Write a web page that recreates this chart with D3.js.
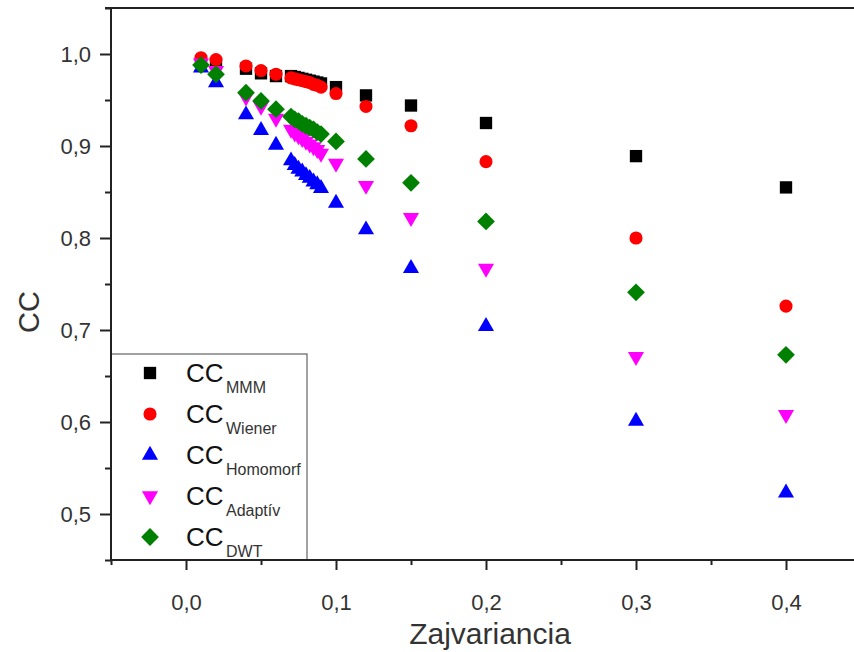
<!DOCTYPE html>
<html>
<head>
<meta charset="utf-8">
<script src="https://cdn.jsdelivr.net/npm/d3@7"></script>
<style>
  html, body { margin: 0; padding: 0; background: #fff; }
  svg { display: block; }
  text { font-family: "Liberation Sans", Arial, sans-serif; fill: #222; }
</style>
</head>
<body>
<svg id="chart" width="854" height="652"></svg>
<script>
// ---- data ----
const xValues = [0.01, 0.02, 0.04, 0.05, 0.06, 0.07, 0.0725, 0.075, 0.0775, 0.08, 0.0825, 0.085, 0.0875, 0.09, 0.1, 0.12, 0.15, 0.2, 0.3, 0.4];
const ccMMM      = [0.992, 0.990, 0.984, 0.979, 0.976, 0.976, 0.975, 0.974, 0.973, 0.972, 0.971, 0.970, 0.969, 0.968, 0.964, 0.955, 0.944, 0.925, 0.889, 0.855];
const ccWiener   = [0.996, 0.994, 0.987, 0.982, 0.978, 0.974, 0.973, 0.972, 0.971, 0.970, 0.969, 0.967, 0.966, 0.964, 0.957, 0.943, 0.922, 0.883, 0.800, 0.726];
const ccHomomorf = [0.985, 0.969, 0.934, 0.917, 0.901, 0.884, 0.879, 0.875, 0.872, 0.868, 0.865, 0.861, 0.858, 0.854, 0.838, 0.809, 0.767, 0.704, 0.601, 0.523];
const ccAdaptiv  = [0.990, 0.982, 0.953, 0.943, 0.930, 0.918, 0.914, 0.911, 0.908, 0.905, 0.902, 0.899, 0.896, 0.892, 0.881, 0.857, 0.822, 0.767, 0.671, 0.608];
const ccDWT      = [0.988, 0.978, 0.958, 0.949, 0.940, 0.932, 0.929, 0.927, 0.924, 0.922, 0.920, 0.918, 0.915, 0.913, 0.905, 0.886, 0.860, 0.818, 0.741, 0.673];
const seriesNames = ["MMM", "Wiener", "Homomorf", "Adaptív", "DWT"];
const seriesColors = ["#000000", "#ff0000", "#0000ff", "#ff00ff", "#008000"];
const xTicks = [0.0, 0.1, 0.2, 0.3, 0.4];
const xMinorTicks = [-0.05, 0.05, 0.15, 0.25, 0.35, 0.45];
const yTicks = [0.5, 0.6, 0.7, 0.8, 0.9, 1.0];
const yMinorTicks = [0.45, 0.55, 0.65, 0.75, 0.85, 0.95, 1.05];

const seriesValues = [ccMMM, ccWiener, ccHomomorf, ccAdaptiv, ccDWT];

// ---- layout ----
const svg = d3.select("#chart");
const x = d3.scaleLinear().domain([-0.05, 0.45]).range([111, 861]);
const y = d3.scaleLinear().domain([0.45, 1.05]).range([560, 8]);
const fmt = v => d3.format(".1f")(v).replace(".", ",");

// marker shapes
const shapes = [
  {type: d3.symbolSquare, size: 152, rot: 0},
  {type: d3.symbolCircle, size: 135, rot: 0},
  {type: d3.symbolTriangle, size: 112, rot: 0},
  {type: d3.symbolTriangle, size: 112, rot: 180},
  {type: d3.symbolSquare, size: 158, rot: 45}
];

// top frame line
svg.append("line")
  .attr("x1", x(-0.05) - 6).attr("x2", x(0.45))
  .attr("y1", y(1.05)).attr("y2", y(1.05))
  .attr("stroke", "#222").attr("stroke-width", 2);

// markers
seriesValues.forEach((vals, si) => {
  const sh = shapes[si];
  const gen = d3.symbol().type(sh.type).size(sh.size);
  svg.append("g").selectAll("path")
    .data(xValues.map((xv, i) => [xv, vals[i]]))
    .join("path")
    .attr("d", gen)
    .attr("transform", d => `translate(${x(d[0])},${y(d[1])}) rotate(${sh.rot})`)
    .attr("fill", seriesColors[si]);
});

// legend box
const lg = svg.append("g");
lg.append("rect")
  .attr("x", 111).attr("y", 354).attr("width", 196).attr("height", 206)
  .attr("fill", "#fff").attr("stroke", "#444").attr("stroke-width", 1);
seriesNames.forEach((name, i) => {
  const cy = 373 + i * 41;
  const sh = shapes[i];
  lg.append("path")
    .attr("d", d3.symbol().type(sh.type).size(sh.size)())
    .attr("transform", `translate(150,${cy}) rotate(${sh.rot})`)
    .attr("fill", seriesColors[i]);
  lg.append("text").attr("x", 186).attr("y", cy + 9)
    .attr("font-size", 26).style("fill", "#111").text("CC");
  lg.append("text").attr("x", 226).attr("y", cy + 20)
    .attr("font-size", 16).style("fill", "#333").text(name);
});

// axes
const xAxis = d3.axisBottom(x).tickValues(xTicks).tickSize(10).tickPadding(24).tickFormat(fmt);
const xAxisMinor = d3.axisBottom(x).tickValues(xMinorTicks).tickSize(5).tickFormat("");
const yAxis = d3.axisLeft(y).tickValues(yTicks).tickSize(11).tickPadding(9).tickFormat(fmt);
const yAxisMinor = d3.axisLeft(y).tickValues(yMinorTicks).tickSize(6).tickFormat("");

function styleAxis(g) {
  g.select(".domain").attr("stroke", "#222").attr("stroke-width", 2);
  g.selectAll(".tick line").attr("stroke", "#222").attr("stroke-width", 2);
  g.selectAll(".tick text").attr("font-size", 22).attr("font-family", "Liberation Sans, Arial, sans-serif").style("fill", "#333");
}
svg.append("g").attr("transform", "translate(0,560)").call(xAxisMinor).call(styleAxis).select(".domain").remove();
svg.append("g").attr("transform", "translate(111,0)").call(yAxisMinor).call(styleAxis).select(".domain").remove();
const gx = svg.append("g").attr("transform", "translate(0,560)").call(xAxis).call(styleAxis);
const gy = svg.append("g").attr("transform", "translate(111,0)").call(yAxis).call(styleAxis);
gx.select(".domain").attr("d", `M${x(-0.05)},0H${x(0.45)}`);
gy.select(".domain").attr("d", `M0,${y(0.45)}V${y(1.05)}`);

// axis titles
svg.append("text").attr("x", 490).attr("y", 644).attr("text-anchor", "middle")
  .attr("font-size", 30).style("fill", "#333").text("Zajvariancia");
svg.append("text").attr("transform", "translate(39,312) rotate(-90)").attr("text-anchor", "middle")
  .attr("font-size", 29).style("fill", "#333").text("CC");
</script>
</body>
</html>
